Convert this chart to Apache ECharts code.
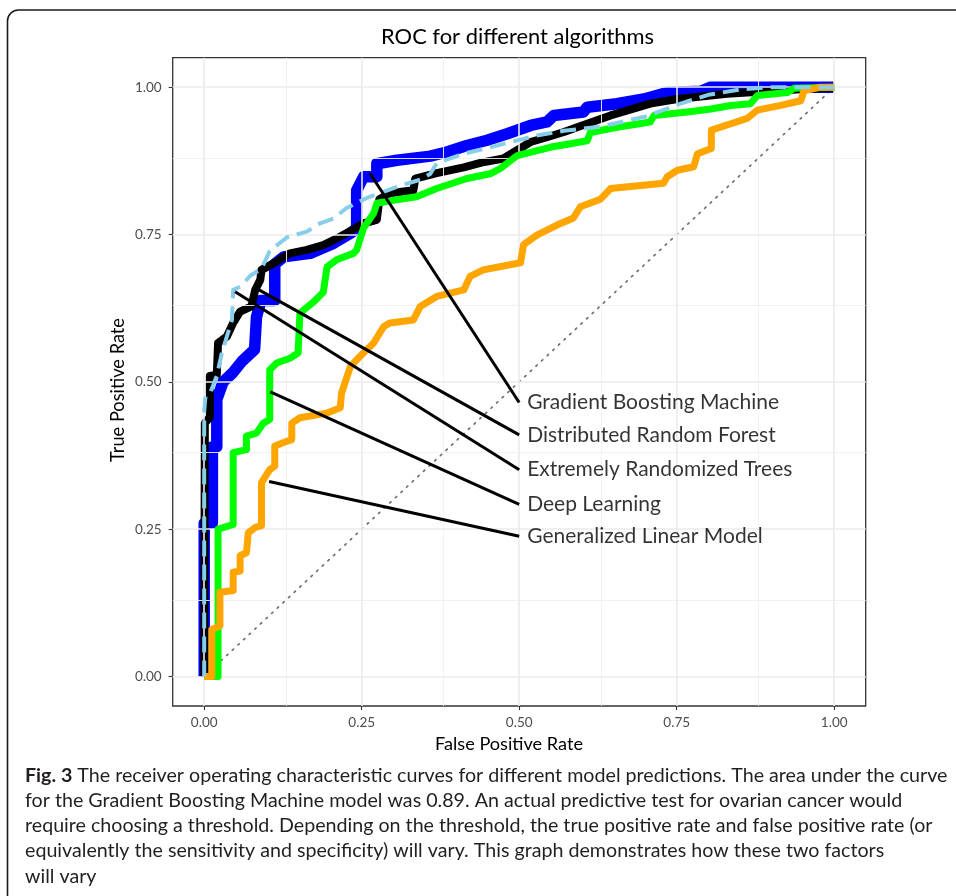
<!DOCTYPE html>
<html>
<head>
<meta charset="utf-8">
<script src="https://cdn.jsdelivr.net/npm/echarts@6/dist/echarts.min.js"></script>
<style>
html,body{margin:0;padding:0;background:#fff;}
#chart{width:956px;height:896px;}
</style>
</head>
<body>
<div id="chart"></div>
<script>
// ---------------- DATA ----------------
const titleText = 'ROC for different algorithms';
const xAxisTitle = 'False Positive Rate';
const yAxisTitle = 'True Positive Rate';
const majorTicks = [0, 0.25, 0.5, 0.75, 1];
const minorTicks = [0.125, 0.375, 0.625, 0.875];

const gbmPoints = [[0,0],[0,0.26],[0.013,0.26],[0.013,0.39],[0.02,0.39],[0.02,0.47],[0.03,0.50],[0.045,0.515],[0.06,0.535],[0.08,0.555],[0.083,0.61],[0.09,0.638],[0.112,0.638],[0.112,0.70],[0.126,0.712],[0.168,0.718],[0.205,0.735],[0.232,0.752],[0.242,0.76],[0.242,0.825],[0.253,0.848],[0.274,0.848],[0.274,0.870],[0.306,0.876],[0.359,0.883],[0.385,0.890],[0.417,0.901],[0.449,0.910],[0.481,0.921],[0.518,0.935],[0.544,0.941],[0.555,0.952],[0.602,0.958],[0.608,0.966],[0.655,0.972],[0.698,0.980],[0.735,0.991],[0.788,0.993],[0.804,1.0],[1.0,1.0]];

const drfPoints = [[0,0],[0.001,0],[0.001,0.43],[0.009,0.44],[0.009,0.51],[0.02,0.512],[0.022,0.566],[0.036,0.577],[0.046,0.60],[0.057,0.619],[0.075,0.628],[0.081,0.656],[0.089,0.673],[0.091,0.690],[0.110,0.701],[0.136,0.718],[0.163,0.724],[0.189,0.732],[0.21,0.743],[0.232,0.756],[0.253,0.769],[0.274,0.775],[0.278,0.81],[0.295,0.82],[0.332,0.825],[0.335,0.845],[0.369,0.854],[0.412,0.864],[0.44,0.872],[0.475,0.879],[0.518,0.907],[0.544,0.915],[0.571,0.924],[0.592,0.932],[0.645,0.952],[0.708,0.972],[0.751,0.980],[0.830,0.989],[0.894,0.993],[1.0,1.0]];

const ertPoints = [[0,0],[0,0.45],[0.002,0.475],[0.009,0.48],[0.02,0.51],[0.028,0.549],[0.036,0.577],[0.044,0.605],[0.046,0.656],[0.058,0.662],[0.073,0.680],[0.091,0.692],[0.104,0.722],[0.131,0.745],[0.163,0.755],[0.184,0.769],[0.205,0.777],[0.226,0.795],[0.258,0.812],[0.306,0.831],[0.343,0.843],[0.359,0.853],[0.369,0.871],[0.412,0.887],[0.454,0.898],[0.491,0.908],[0.528,0.918],[0.571,0.926],[0.629,0.933],[0.70,0.95],[0.756,0.972],[0.80,0.987],[0.85,0.996],[0.90,1.0],[1.0,1.0]];

const dlPoints = [[0,0],[0.022,0],[0.022,0.25],[0.046,0.258],[0.046,0.38],[0.067,0.385],[0.067,0.408],[0.083,0.413],[0.094,0.43],[0.104,0.436],[0.104,0.52],[0.115,0.532],[0.136,0.54],[0.149,0.549],[0.152,0.617],[0.173,0.635],[0.189,0.652],[0.195,0.695],[0.21,0.707],[0.237,0.718],[0.242,0.724],[0.253,0.761],[0.269,0.786],[0.274,0.803],[0.300,0.808],[0.337,0.814],[0.369,0.828],[0.417,0.845],[0.454,0.853],[0.47,0.862],[0.497,0.884],[0.549,0.898],[0.608,0.909],[0.613,0.923],[0.655,0.932],[0.708,0.941],[0.714,0.952],[0.767,0.958],[0.804,0.963],[0.836,0.969],[0.867,0.972],[0.878,0.986],[0.926,0.991],[0.936,0.998],[1.0,1.0]];

const glmPoints = [[0,0],[0.012,0],[0.012,0.08],[0.025,0.086],[0.025,0.143],[0.046,0.146],[0.046,0.177],[0.057,0.179],[0.057,0.205],[0.067,0.21],[0.07,0.244],[0.081,0.253],[0.091,0.256],[0.091,0.329],[0.104,0.351],[0.112,0.357],[0.112,0.391],[0.126,0.397],[0.139,0.402],[0.139,0.43],[0.152,0.439],[0.195,0.447],[0.216,0.456],[0.218,0.481],[0.232,0.526],[0.247,0.543],[0.269,0.566],[0.285,0.594],[0.295,0.60],[0.332,0.605],[0.343,0.628],[0.369,0.645],[0.412,0.656],[0.422,0.679],[0.443,0.690],[0.502,0.702],[0.507,0.733],[0.528,0.749],[0.56,0.766],[0.586,0.778],[0.597,0.797],[0.629,0.81],[0.645,0.828],[0.729,0.837],[0.735,0.848],[0.751,0.859],[0.777,0.865],[0.783,0.887],[0.805,0.896],[0.805,0.927],[0.836,0.938],[0.862,0.947],[0.878,0.961],[0.915,0.969],[0.947,0.977],[0.952,0.994],[0.978,1.0],[1.0,1.0]];

const chancePoints = [[0,0],[1,1]];

const modelNames = ['Gradient Boosting Machine','Distributed Random Forest','Extremely Randomized Trees','Deep Learning','Generalized Linear Model'];
const labelAnchors = [[0.263,0.854],[0.087,0.656],[0.049,0.653],[0.105,0.483],[0.103,0.331]];
const labelEnds = [[0.50,0.465],[0.50,0.41],[0.50,0.351],[0.50,0.292],[0.50,0.238]];

const captionBold = 'Fig. 3';
const captionLines = [
  ' The receiver operating characteristic curves for different model predictions. The area under the curve',
  'for the Gradient Boosting Machine model was 0.89. An actual predictive test for ovarian cancer would',
  'require choosing a threshold. Depending on the threshold, the true positive rate and false positive rate (or',
  'equivalently the sensitivity and specificity) will vary. This graph demonstrates how these two factors',
  'will vary'
];

// ---------------- LAYOUT ----------------
const FONT = 'Lato, "Open Sans", sans-serif';
const mctx = document.createElement('canvas').getContext('2d');
function textW(t, weight) { mctx.font = (weight || 'normal') + ' 100px ' + FONT; return mctx.measureText(t).width; }
function fitSize(t, target, weight) { return 100 * target / textW(t, weight); }

const titleSize = fitSize(titleText, 273);
const xTitleSize = fitSize(xAxisTitle, 148);
const yTitleSize = fitSize(yAxisTitle, 144);
const labelSize = fitSize(modelNames[0], 252);
const captionSize = 100 * 923 / (textW(captionBold, 'bold') + textW(captionLines[0]));

const GL = 172.7, GT = 57.7, GW = 693, GH = 648.3;

const chart = echarts.init(document.getElementById('chart'), null, {renderer: 'canvas'});

function gridMark(values, axis, width, color) {
  return values.map(v => ({[axis]: v, lineStyle: {width: width, color: color, type: 'solid'}}));
}

const captionY = [778, 803, 828, 853, 879];
const captionGraphics = captionLines.map((line, i) => ({
  type: 'text', left: 25, top: captionY[i] - captionSize * 0.62,
  style: {
    text: i === 0 ? '{b|' + captionBold + '}' + line : line,
    font: 'normal ' + captionSize.toFixed(2) + 'px ' + FONT,
    fill: '#231f20',
    rich: i === 0 ? {b: {fontWeight: 'bold', fontSize: captionSize, fontFamily: FONT, fill: '#231f20', color: '#231f20'}} : undefined
  }
}));

const option = {
  animation: false,
  backgroundColor: '#fff',
  grid: {left: GL, top: GT, width: GW, height: GH, show: true, borderColor: '#333', borderWidth: 1.3, backgroundColor: '#fff', containLabel: false},
  xAxis: {
    type: 'value', min: -0.05, max: 1.05,
    axisLine: {show: false, onZero: false},
    axisTick: {show: true, customValues: majorTicks, length: 4, lineStyle: {color: '#333', width: 1.1}},
    axisLabel: {show: true, customValues: majorTicks, margin: 10, color: '#4d4d4d', fontSize: 13.5, fontFamily: FONT, formatter: v => v.toFixed(2)},
    splitLine: {show: false}
  },
  yAxis: {
    type: 'value', min: -0.05, max: 1.05,
    axisLine: {show: false, onZero: false},
    axisTick: {show: true, customValues: majorTicks, length: 4, lineStyle: {color: '#333', width: 1.1}},
    axisLabel: {show: true, customValues: majorTicks, margin: 11, color: '#4d4d4d', fontSize: 13.5, fontFamily: FONT, formatter: v => v.toFixed(2)},
    splitLine: {show: false}
  },
  graphic: [
    {type: 'rect', shape: {x: 7.5, y: 10, width: 1100, height: 1100, r: 11}, style: {fill: 'none', stroke: '#1a1a1a', lineWidth: 1.6}, z: 100},
    {type: 'text', x: 517.5, y: 37, style: {text: titleText, font: 'normal ' + titleSize.toFixed(2) + 'px ' + FONT, fill: '#000', align: 'center', verticalAlign: 'middle'}},
    {type: 'text', x: 509, y: 744, style: {text: xAxisTitle, font: 'normal ' + xTitleSize.toFixed(2) + 'px ' + FONT, fill: '#000', align: 'center', verticalAlign: 'middle'}},
    {type: 'text', x: 118, y: 390, rotation: Math.PI / 2, style: {text: yAxisTitle, font: 'normal ' + yTitleSize.toFixed(2) + 'px ' + FONT, fill: '#000', align: 'center', verticalAlign: 'middle'}}
  ].concat(captionGraphics),
  series: [
    {
      type: 'line', data: [[0, 0]], symbol: 'none', lineStyle: {opacity: 0}, z: 1, silent: true,
      markLine: {
        silent: true, symbol: ['none', 'none'], label: {show: false}, animation: false,
        data: gridMark(minorTicks, 'xAxis', 0.9, '#f1f1f1').concat(gridMark(minorTicks, 'yAxis', 0.9, '#f1f1f1'))
          .concat(gridMark(majorTicks, 'xAxis', 1.6, '#ebebeb')).concat(gridMark(majorTicks, 'yAxis', 1.6, '#ebebeb'))
      }
    },
    {type: 'line', data: chancePoints, symbol: 'none', z: 2, lineStyle: {color: '#707070', width: 1.7, type: [1.7, 6], cap: 'round'}},
    {type: 'line', name: modelNames[0], data: gbmPoints, symbol: 'none', z: 3, lineStyle: {color: '#0000ff', width: 11.5, join: 'round'}},
    {type: 'line', name: modelNames[1], data: drfPoints, symbol: 'none', z: 4, lineStyle: {color: '#000000', width: 8, join: 'round'}},
    {type: 'line', name: modelNames[3], data: dlPoints, symbol: 'none', z: 5, lineStyle: {color: '#00ff00', width: 7, join: 'round'}},
    {type: 'line', name: modelNames[4], data: glmPoints, symbol: 'none', z: 6, lineStyle: {color: '#ffa500', width: 7, join: 'round'}},
    {type: 'line', name: modelNames[2], data: ertPoints, symbol: 'none', z: 7, lineStyle: {color: '#87ceeb', width: 4, type: [16, 8], join: 'round'}},
    {
      type: 'lines', coordinateSystem: 'cartesian2d', z: 8, silent: true,
      lineStyle: {color: '#000', width: 3, opacity: 1, curveness: 0},
      data: labelAnchors.map((a, i) => ({coords: [a, labelEnds[i]]}))
    },
    {
      type: 'scatter', z: 9, symbolSize: 0, silent: true,
      data: labelEnds.map((e, i) => ({value: e, name: modelNames[i]})),
      label: {show: true, position: 'right', distance: 8, formatter: '{b}', color: '#000', fontSize: labelSize, fontFamily: FONT}
    }
  ]
};
chart.setOption(option);
</script>
</body>
</html>
